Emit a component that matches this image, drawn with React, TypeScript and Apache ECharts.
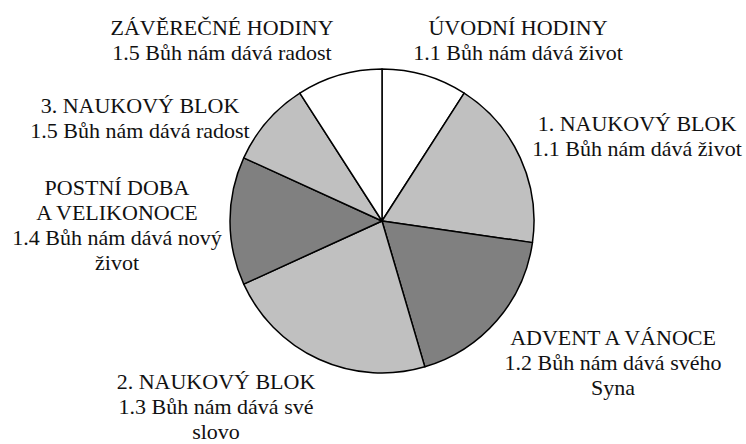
import React, { useEffect, useRef } from "react";
import * as echarts from "echarts";

// Data (clockwise from 12 o'clock)
const categories: string[] = [
  "ÚVODNÍ HODINY",
  "1. NAUKOVÝ BLOK",
  "ADVENT A VÁNOCE",
  "2. NAUKOVÝ BLOK",
  "POSTNÍ DOBA\nA VELIKONOCE",
  "3. NAUKOVÝ BLOK",
  "ZÁVĚREČNÉ HODINY",
];
const topics: string[] = [
  "1.1 Bůh nám dává život",
  "1.1 Bůh nám dává život",
  "1.2 Bůh nám dává svého\nSyna",
  "1.3 Bůh nám dává své\nslovo",
  "1.4 Bůh nám dává nový\nživot",
  "1.5 Bůh nám dává radost",
  "1.5 Bůh nám dává radost",
];
const hours: number[] = [4, 8, 8, 10, 6, 4, 4];

// Styling / layout (not data)
const FONT = "Liberation Serif, Times New Roman, DejaVu Serif, serif";
const sliceColors = ["#ffffff", "#c0c0c0", "#808080", "#c0c0c0", "#808080", "#c0c0c0", "#ffffff"];
const labelCenters: [number, number][] = [
  [518, 40],
  [637, 136],
  [613, 362],
  [216, 406],
  [117, 225],
  [140, 118],
  [222, 40],
];

export default function App() {
  const ref = useRef<HTMLDivElement>(null);
  useEffect(() => {
    document.body.style.margin = "0";
    if (!ref.current) return;
    const chart = echarts.init(ref.current, undefined, { renderer: "svg" });
    chart.setOption({
      animation: false,
      backgroundColor: "#ffffff",
      textStyle: { fontFamily: FONT },
      series: [
        {
          type: "pie",
          center: [382, 221],
          radius: 152,
          startAngle: 90,
          clockwise: true,
          avoidLabelOverlap: false,
          silent: true,
          itemStyle: { borderColor: "#000000", borderWidth: 1.5 },
          label: {
            show: true,
            position: "outside",
            fontFamily: FONT,
            fontSize: 22,
            lineHeight: 25,
            color: "#111111",
            formatter: (p: any) => categories[p.dataIndex] + "\n" + topics[p.dataIndex],
          },
          labelLine: { show: false },
          labelLayout: (p: any) => ({
            x: labelCenters[p.dataIndex][0],
            y: labelCenters[p.dataIndex][1],
            align: "center",
            verticalAlign: "middle",
          }),
          data: hours.map((v, i) => ({
            value: v,
            name: categories[i],
            itemStyle: { color: sliceColors[i] },
          })),
        },
      ],
    });
    return () => chart.dispose();
  }, []);
  return (
    <div
      ref={ref}
      style={{ position: "absolute", left: 0, top: 0, width: 746, height: 444, fontFamily: FONT }}
    />
  );
}
